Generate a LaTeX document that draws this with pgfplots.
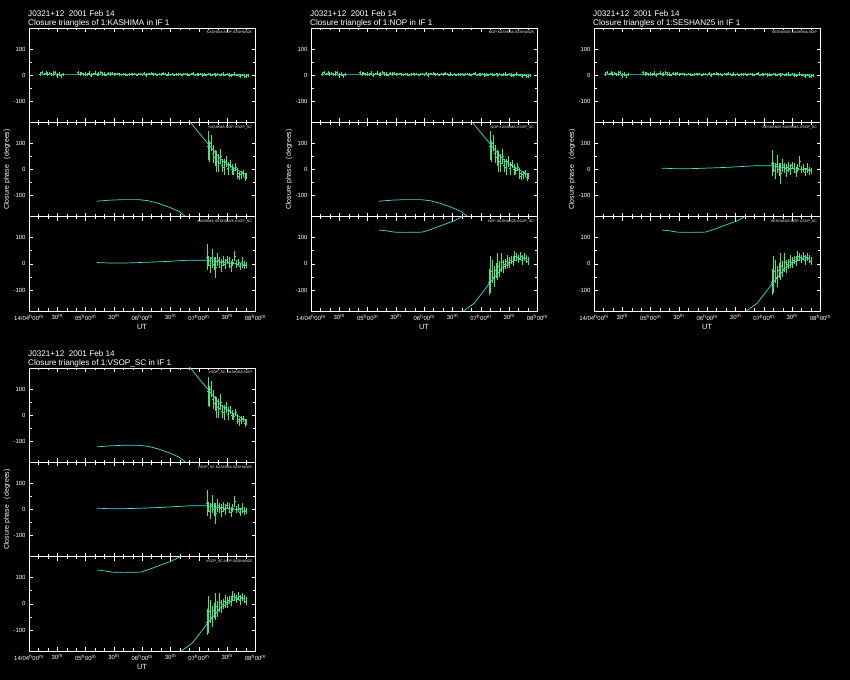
\documentclass[border=0pt]{standalone}
\usepackage{pgfplots}
\pgfplotsset{compat=1.18}
\usepackage{pgfplotstable}
\usepackage{fontspec}
\setmainfont{Liberation Sans}
\definecolor{cyanm}{RGB}{64,224,214}
\definecolor{greend}{RGB}{72,230,120}

% ground triangle closure phases (t = minutes after 04:00 UT)
\pgfplotstableread{
t y e
12 5 8
14 9 6
16 4 5
18 7 7
20 3 8
22 8 5
24 2 7
26 5 10
28 10 5
30 0 9
32 4 7
34 -2 8
36 3 5
52 9 8
54 4 7
56 7 5
58 2 7
60 5 8
62 3 5
64 8 7
66 1 8
68 4 5
70 7 7
72 2 5
74 5 7
76 9 5
78 3 8
80 5 7
82 1 5
84 6 7
86 4 8
88 7 5
90 2 7
92 4 5
94 6 4
96 3 5
98 2 4
100 4 4
102 3 5
104 1 4
106 3 5
108 5 4
110 2 5
112 4 4
114 0 5
116 3 4
118 5 5
120 2 4
122 6 5
124 1 7
126 4 5
128 3 4
130 7 5
132 2 7
134 5 5
136 0 4
138 4 5
140 2 7
142 6 5
144 3 4
146 1 5
148 4 7
150 2 4
152 5 5
154 0 4
156 3 5
158 2 7
160 4 4
162 1 5
164 3 4
166 5 5
168 2 7
170 0 5
172 3 4
174 6 5
176 1 4
178 3 7
180 2 5
182 4 4
184 0 7
186 3 5
188 1 4
190 5 5
192 2 7
194 0 5
196 3 4
198 1 7
200 4 5
202 -1 4
204 2 5
206 4 7
208 0 5
210 3 4
212 1 7
214 -2 5
216 2 4
218 4 7
220 0 5
222 2 4
224 -3 7
226 1 5
228 -2 8
230 -4 7
232 -1 5
}\ground
\pgfplotstableread{
t y
12 3
60 3
120 3
180 2
232 1
}\groundM

% KASHIMA-NOP-VSOP_SC type
\pgfplotstableread{
t y
72 -121
86 -117
100 -115
116 -115
126 -119
136 -128
148 -143
159 -160
166 -180
168 -186
}\knA
\pgfplotstableread{
t y
168 190
171 180
180 140
190 97
197 65
203 40
210 20
217 6
224 -8
230 -20
}\knB
\pgfplotstableread{
t y e
190 90 55
191 70 40
193 100 30
195 60 35
197 45 30
199 30 40
201 25 35
203 50 30
205 15 25
207 10 30
209 30 20
211 5 25
213 20 15
215 0 20
217 -5 15
219 10 15
221 -15 20
223 -25 15
225 -20 15
227 -15 12
229 -30 15
230 -25 12
}\knD

% KASHIMA-SESHAN25-VSOP_SC type
\pgfplotstableread{
t y
72 5
86 3
100 3
110 4
125 6
140 8
150 10
160 12
170 14
188 14
198 9
208 4
220 0
230 -2
}\ksM
\pgfplotstableread{
t y e
189 25 50
190 10 20
192 -5 30
194 20 35
196 0 25
198 -15 40
200 15 25
202 5 20
204 -5 25
206 10 20
208 0 20
210 15 15
212 5 20
214 -10 20
216 5 15
218 30 20
220 0 15
222 5 15
224 -10 15
226 5 20
228 -5 15
230 -5 12
}\ksD

% NOP-SESHAN25-VSOP_SC type
\pgfplotstableread{
t y
72 129
80 126
88 121
100 120
118 121
127 131
135 142
141 150
151 163
160 180
162 186
}\nsA
\pgfplotstableread{
t y
158 -190
160 -184
173 -150
182 -108
190 -70
203 -15
215 12
229 22
}\nsB
\pgfplotstableread{
t y e
189 -70 50
190 -40 70
192 -30 45
194 -50 40
196 -25 30
198 -10 50
200 -20 30
202 5 35
204 -10 25
206 0 20
208 10 25
210 5 20
212 15 15
214 10 20
216 30 20
218 25 15
220 20 15
222 30 15
224 15 20
226 25 15
228 20 15
230 10 15
}\nsD

\pgfplotsset{
  base/.style={
    scale only axis, width=226.5bp, height=94.33bp, anchor=south west,
    xmin=0, xmax=240, ymin=-180, ymax=180,
    axis line style={white, line width=0.6bp},
    xtick={0,30,...,240}, minor x tick num=2,
    ytick={-100,0,100}, minor y tick num=1,
    tick style={white, line width=0.5bp},
    major tick length=4bp, minor tick length=2.5bp,
    tick align=inside,
    ticklabel style={text=white, font=\fontsize{6}{7}\selectfont},
    /pgf/number format/assume math mode=true,
    xticklabels={}, clip=true,
  },
  bottomx/.style={
    xticklabels={{14/04\textsuperscript{h}00\textsuperscript{m}},{30\textsuperscript{m}},{05\textsuperscript{h}00\textsuperscript{m}},{30\textsuperscript{m}},{06\textsuperscript{h}00\textsuperscript{m}},{30\textsuperscript{m}},{07\textsuperscript{h}00\textsuperscript{m}},{30\textsuperscript{m}},{08\textsuperscript{h}00\textsuperscript{m}}},
  },
  model/.style={color=cyanm, line width=0.7bp, mark=none},
  dataplot/.style={color=greend, only marks, mark=-, mark size=1bp,
    mark options={color=greend, line width=0.6bp},
    error bars/.cd, y dir=both, y explicit, error mark=none,
    error bar style={color=greend, line width=0.8bp}},
}

\newcommand{\plotG}{%
  \addplot[dataplot] table[x=t,y=y,y error=e]{\ground};
  \addplot[model] table[x=t,y=y]{\groundM};}
\newcommand{\plotK}{%
  \addplot[dataplot] table[x=t,y=y,y error=e]{\knD};
  \addplot[model] table[x=t,y=y]{\knA};
  \addplot[model] table[x=t,y=y]{\knB};}
\newcommand{\plotS}{%
  \addplot[dataplot] table[x=t,y=y,y error=e]{\ksD};
  \addplot[model] table[x=t,y=y]{\ksM};}
\newcommand{\plotW}{%
  \addplot[dataplot] table[x=t,y=y,y error=e]{\nsD};
  \addplot[model] table[x=t,y=y]{\nsA};
  \addplot[model] table[x=t,y=y]{\nsB};}

% #1 x, #2 y, #3 triangle label, #4 plots, #5 extra options
\newcommand{\panel}[5]{%
  \begin{axis}[base, at={(#1bp,#2bp)}, #5]
  #4
  \node[anchor=north east, font=\fontsize{3.6}{4}\selectfont, text=white, inner sep=0pt] at (rel axis cs:0.985,0.965) {#3};
  \end{axis}}

% #1 x of axis, #2 y of axis top (tikz), #3 antenna
\newcommand{\heads}[3]{%
  \node[anchor=base west, text=white, font=\fontsize{8.2}{9}\selectfont, inner sep=0pt] at (#1-1, #2+11) {J0321+12\ \ 2001 Feb 14};
  \node[anchor=base west, text=white, font=\fontsize{8.2}{9}\selectfont, inner sep=0pt] at (#1-1, #2+2) {Closure triangles of 1:#3 in IF 1};
  \node[rotate=90, text=white, font=\fontsize{7}{8}\selectfont, inner sep=0pt] at (#1-22, #2-141.5) {Closure phase\ \ \ (degrees)};
  \node[text=white, font=\fontsize{7.5}{8}\selectfont, inner sep=0pt] at (#1+113, #2-299) {UT};}

\begin{document}
\begin{tikzpicture}[x=1bp,y=1bp]
\fill[black] (0,0) rectangle (850,680);

% Group 1: KASHIMA
\heads{29}{652}{KASHIMA}
\panel{29}{557.67}{KASHIMA-NOP-SESHAN25}{\plotG}{}
\panel{29}{463.33}{KASHIMA-NOP-VSOP\_SC}{\plotK}{}
\panel{29}{369}{KASHIMA-SESHAN25-VSOP\_SC}{\plotS}{bottomx}

% Group 2: NOP
\heads{311}{652}{NOP}
\panel{311}{557.67}{NOP-KASHIMA-SESHAN25}{\plotG}{}
\panel{311}{463.33}{NOP-KASHIMA-VSOP\_SC}{\plotK}{}
\panel{311}{369}{NOP-SESHAN25-VSOP\_SC}{\plotW}{bottomx}

% Group 3: SESHAN25
\heads{594}{652}{SESHAN25}
\panel{594}{557.67}{SESHAN25-KASHIMA-NOP}{\plotG}{}
\panel{594}{463.33}{SESHAN25-KASHIMA-VSOP\_SC}{\plotS}{}
\panel{594}{369}{SESHAN25-NOP-VSOP\_SC}{\plotW}{bottomx}

% Group 4: VSOP_SC
\heads{29}{312}{VSOP\_SC}
\panel{29}{217.67}{VSOP\_SC-KASHIMA-NOP}{\plotK}{}
\panel{29}{123.33}{VSOP\_SC-KASHIMA-SESHAN25}{\plotS}{}
\panel{29}{29}{VSOP\_SC-NOP-SESHAN25}{\plotW}{bottomx}

\pgfresetboundingbox
\useasboundingbox (0,0) rectangle (850,680);
\end{tikzpicture}
\end{document}
